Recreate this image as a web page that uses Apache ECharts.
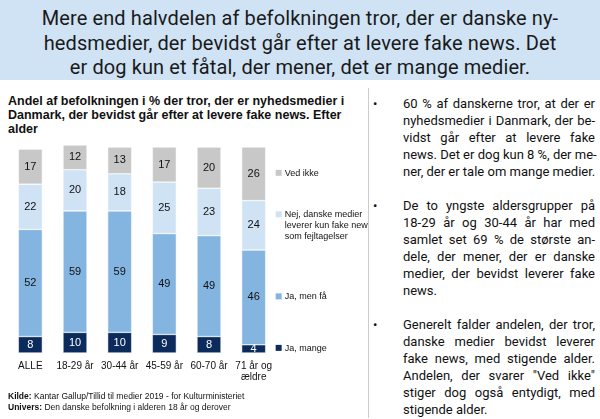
<!DOCTYPE html>
<html><head><meta charset="utf-8">
<script src="https://cdn.jsdelivr.net/npm/echarts@6/dist/echarts.min.js"></script>
<style>
body{margin:0;width:600px;height:419px;position:relative;background:#fff;font-family:Roboto,"Liberation Sans",sans-serif;overflow:hidden}
#title{position:absolute;left:0;top:0;width:600px;height:80px;background:#cfe3f5;color:#1a1a1a;font-size:20px;line-height:24.5px;text-align:center;padding-top:6px;box-sizing:border-box;letter-spacing:0.1px}
#sub{position:absolute;left:8px;top:94px;width:358px;font-size:12.5px;font-weight:bold;line-height:14px;color:#111;font-family:"Liberation Sans",sans-serif}
#chart{position:absolute;left:0;top:135px;width:368px;height:258px}
#div{position:absolute;left:368px;top:88px;width:1px;height:330px;background:#ccc}
#txt{position:absolute;left:373px;top:95px;width:222px;font-size:13px;line-height:17px;color:#111}
.p{position:relative;padding-left:30px;margin-bottom:17px}
.p:before{content:"•";position:absolute;left:0;top:0}
.l{text-align:justify;text-align-last:justify;white-space:nowrap}
.e{text-align-last:left}
#foot{position:absolute;left:8px;top:391px;font-size:8.5px;line-height:11px;color:#111;font-family:"Liberation Sans",sans-serif}
</style></head><body>
<div id="title">Mere end halvdelen af befolkningen tror, der er danske ny-<br>hedsmedier, der bevidst går efter at levere fake news. Det<br>er dog kun et fåtal, der mener, det er mange medier.</div>
<div id="sub">Andel af befolkningen i % der tror, der er nyhedsmedier i Danmark, der bevidst går efter at levere fake news. Efter alder</div>
<div id="chart"></div>
<div id="div"></div>
<div id="txt">
<div class="p"><div class="l">60 % af danskerne tror, at der er</div><div class="l">nyhedsmedier i Danmark, der be-</div><div class="l">vidst går efter at levere fake</div><div class="l">news. Det er dog kun 8 %, der me-</div><div class="l">ner, der er tale om mange medier.</div></div>
<div class="p"><div class="l">De to yngste aldersgrupper på</div><div class="l">18-29 år og 30-44 år har med</div><div class="l">samlet set 69 % de største an-</div><div class="l">dele, der mener, der er danske</div><div class="l">medier, der bevidst leverer fake</div><div class="l e">news.</div></div>
<div class="p"><div class="l">Generelt falder andelen, der tror,</div><div class="l">danske medier bevidst leverer</div><div class="l">fake news, med stigende alder.</div><div class="l">Andelen, der svarer "Ved ikke"</div><div class="l">stiger dog også entydigt, med</div><div class="l e">stigende alder.</div></div>
</div>
<div id="foot"><b>Kilde:</b> Kantar Gallup/Tillid til medier 2019 - for Kulturministeriet<br><b>Univers:</b> Den danske befolkning i alderen 18 år og derover</div>
<script>
const categories=["ALLE","18-29 år","30-44 år","45-59 år","60-70 år","71 år og\nældre"];
const jaMange=[8,10,10,9,8,4];
const jaFaa=[52,59,59,49,49,46];
const nej=[22,20,18,25,23,24];
const vedIkke=[17,12,13,17,20,26];
const names=["Ja, mange","Ja, men få","Nej, danske medier\nleverer kun fake news\nsom fejltagelser","Ved ikke"];
const colors=["#0b2b5c","#84b5e0","#cfe3f5","#c8c8c8"];
const labelColors=["#fff","#111","#111","#111"];
const vals=[jaMange,jaFaa,nej,vedIkke];
const chart=echarts.init(document.getElementById('chart'));
chart.setOption({
 animation:false,
 grid:{left:8,right:92,top:10,bottom:40},
 xAxis:{type:'category',data:categories,axisLine:{show:false},axisTick:{show:false},
  axisLabel:{interval:0,color:'#111',fontSize:10,fontFamily:'Liberation Sans',lineHeight:11,margin:8,verticalAlign:'top'}},
 yAxis:{type:'value',min:0,max:101,show:false},
 series:vals.map((v,i)=>({type:'bar',stack:'s',name:names[i],data:v,barWidth:24,
  itemStyle:{color:colors[i],borderColor:'#fff',borderWidth:0.5},
  label:{show:true,color:labelColors[i],fontSize:11,fontFamily:'Liberation Sans'}}))
});
const last=categories.length-1;let cum=0;const g=[];
vals.forEach((v,i)=>{const mid=cum+v[last]/2;cum+=v[last];
 const p=chart.convertToPixel({gridIndex:0},[last,mid]);
 g.push({type:'rect',shape:{x:p[0]+22,y:p[1]-(i==2?14:4),width:6,height:6},style:{fill:colors[i]}});
 g.push({type:'text',x:p[0]+31,y:p[1]-(i==2?16:6),style:{text:names[i],fill:'#111',fontSize:9,fontFamily:'Liberation Sans',lineHeight:11}});
});
chart.setOption({graphic:g});
</script></body></html>
